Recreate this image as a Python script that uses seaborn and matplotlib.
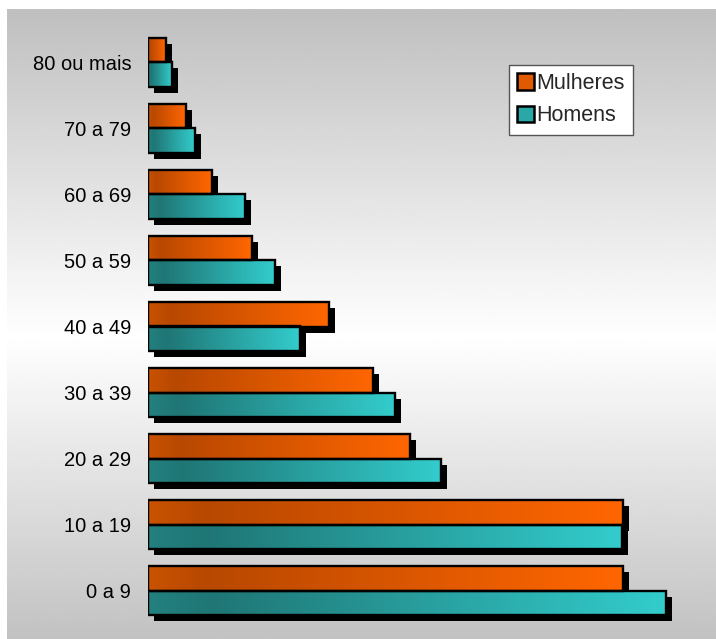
import numpy as np
import pandas as pd
import matplotlib
matplotlib.use("Agg")
import matplotlib.pyplot as plt
import matplotlib.transforms as mtransforms
from matplotlib.patches import Rectangle, Patch
from matplotlib.colors import LinearSegmentedColormap
import seaborn as sns

# Age groups and population by sex
faixas = ["80 ou mais", "70 a 79", "60 a 69", "50 a 59", "40 a 49",
          "30 a 39", "20 a 29", "10 a 19", "0 a 9"]
mulheres = [18, 38, 64, 104, 181, 225, 262, 475, 475]
homens = [24, 47, 97, 127, 152, 247, 293, 474, 518]
series = ["Mulheres", "Homens"]

df = pd.DataFrame({
    "faixa": faixas * 2,
    "valor": mulheres + homens,
    "sexo": [series[0]] * len(faixas) + [series[1]] * len(faixas),
})

sns.set_theme(style="white")
plt.rcParams["font.family"] = ["Liberation Sans", "DejaVu Sans"]

fig = plt.figure(figsize=(7.16, 6.39), dpi=100)
fig.patch.set_facecolor("white")

# Grey-white-grey vertical gradient behind the chart (t measured from the top)
bg = fig.add_axes([7 / 716, 0, 709 / 716, 630 / 639], zorder=-10)
t = np.linspace(0, 1, 256)
mid = 0.52
shade = np.where(t < mid, 0.75 + 0.25 * (t / mid), 1.0 - 0.24 * ((t - mid) / (1 - mid)))
bg.imshow(shade[:, None].repeat(2, axis=1), cmap="gray", vmin=0, vmax=1,
          aspect="auto", extent=[0, 1, 0, 1], origin="upper")
bg.set_axis_off()

# Plot area
left, right = 148 / 716, 700 / 716
top, bottom = 1 - 29 / 639, 1 - 624 / 639
ax = fig.add_axes([left, bottom, right - left, top - bottom])
ax.patch.set_alpha(0)

sns.barplot(data=df, y="faixa", x="valor", hue="sexo", order=faixas,
            hue_order=series, orient="h", width=0.74, dodge=True,
            palette={"Mulheres": "#ff6600", "Homens": "#33cccc"},
            edgecolor="black", linewidth=1.7, legend=False, ax=ax)

grads = {
    0: LinearSegmentedColormap.from_list(
        "m", [(0, "#c85200"), (0.12, "#b84800"), (1, "#ff6600")]),
    1: LinearSegmentedColormap.from_list(
        "h", [(0, "#23807e"), (0.12, "#1f7675"), (1, "#33cccc")]),
}
shadow_tr = mtransforms.offset_copy(ax.transData, fig=fig, x=6, y=-6, units="dots")
ramp = np.linspace(0, 1, 128)[None, :]
for i, cont in enumerate(ax.containers):
    for bar in cont:
        x0, y0 = bar.get_x(), bar.get_y()
        w, h = bar.get_width(), bar.get_height()
        ax.add_patch(Rectangle((x0, y0), w, h, transform=shadow_tr,
                               facecolor="black", edgecolor="none", zorder=1))
        bar.set_zorder(3)
        im = ax.imshow(ramp, cmap=grads[i], aspect="auto",
                       extent=[x0, x0 + w, y0 + h, y0], zorder=2.5,
                       interpolation="bilinear")
        im.set_clip_path(bar)
        bar.set_facecolor("none")

ax.set_xlim(0, 552)
ax.set_ylim(len(faixas) - 0.5, -0.5)
ax.set_xlabel("")
ax.set_ylabel("")
ax.set_xticks([])
ax.tick_params(axis="y", length=0, pad=12, labelsize=14.5, colors="black")
for s in ax.spines.values():
    s.set_visible(False)

handles = [Patch(facecolor="#e05a00", edgecolor="black", linewidth=1.8),
           Patch(facecolor="#2aa8a8", edgecolor="black", linewidth=1.8)]
leg = fig.legend(handles, series, loc="upper left",
                 bbox_to_anchor=(509 / 716, 1 - 65 / 639),
                 frameon=True, fancybox=False, fontsize=15.5,
                 handlelength=0.8, handleheight=0.8, handletextpad=0.08,
                 borderpad=0.38, labelspacing=0.52, borderaxespad=0)
leg.get_frame().set_edgecolor("#555555")
leg.get_frame().set_linewidth(1.0)
leg.get_frame().set_facecolor("white")
leg.get_frame().set_alpha(1)

fig.savefig("out.png", dpi=100)
